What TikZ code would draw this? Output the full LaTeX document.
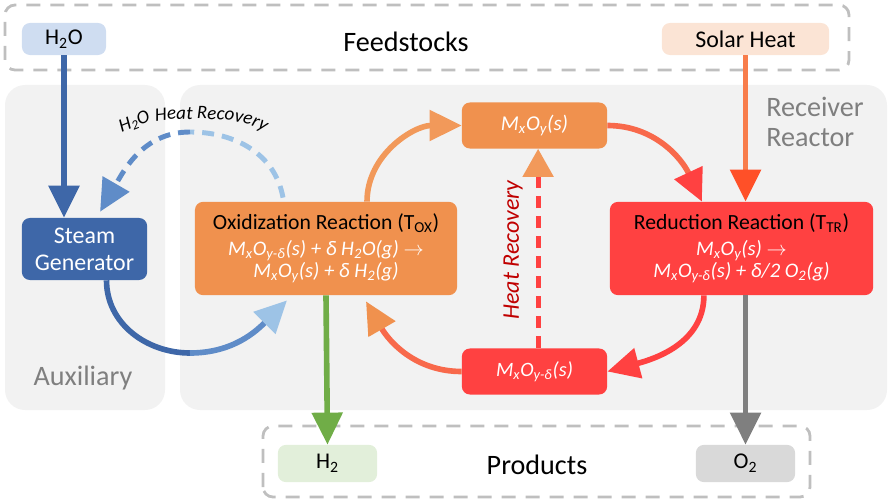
\documentclass[tikz,border=0pt]{standalone}
\usepackage{fontspec}
\setmainfont{Carlito}
\usepackage{xcolor}
\definecolor{panelgray}{RGB}{242,242,242}
\definecolor{dashgray}{RGB}{191,191,191}
\definecolor{labelgray}{RGB}{127,127,127}
\definecolor{steamblue}{RGB}{62,103,168}
\definecolor{midblue}{RGB}{95,140,200}
\definecolor{paleblue}{RGB}{157,195,230}
\definecolor{h2oblue}{RGB}{207,221,241}
\definecolor{solarpeach}{RGB}{251,228,213}
\definecolor{oxorange}{RGB}{240,145,78}
\definecolor{arroworange}{RGB}{242,153,90}
\definecolor{redred}{RGB}{255,65,65}
\definecolor{coral}{RGB}{248,105,75}
\definecolor{solarline}{RGB}{248,125,75}
\definecolor{solartip}{RGB}{255,80,40}
\definecolor{h2green}{RGB}{226,239,218}
\definecolor{o2gray}{RGB}{217,217,217}
\definecolor{h2line}{RGB}{112,173,71}
\definecolor{o2line}{RGB}{127,127,127}
\definecolor{recoveryred}{RGB}{192,0,0}
\usetikzlibrary{arrows.meta,positioning,decorations.text}

\begin{document}
\begin{tikzpicture}[x=0.025cm, y=0.025cm,
    panel/.style={fill=panelgray, rounded corners=0.5cm},
    groupbox/.style={draw=dashgray, line width=2pt, dash pattern=on 0.35cm off 0.25cm, rounded corners=0.25cm},
    box/.style={rectangle, rounded corners=0.2cm, align=center, inner sep=2pt},
    tag/.style={box, minimum width=2.48cm, minimum height=0.93cm, font=\fontsize{16}{19}\selectfont},
    reaction/.style={box, minimum width=6.55cm, minimum height=2.33cm, text=white, font=\itshape\fontsize{14.7}{16}\selectfont},
    phase/.style={box, text=white, font=\itshape\fontsize{15}{17}\selectfont, minimum width=3.63cm, minimum height=1.15cm},
    flow/.style={line width=4pt, -{Triangle[length=0.8cm,width=0.75cm]}},
    recovery/.style={flow, line width=3.5pt, dash pattern=on 0.3cm off 0.2cm},
    grouplabel/.style={text=labelgray, font=\fontsize{20}{21}\selectfont}]

    \useasboundingbox (0,0) rectangle (892,501);

    % Background panels
    \fill[panel] (5,91) rectangle (165,416);
    \fill[panel] (180,91) rectangle (887,416);
    \draw[groupbox] (5,431) rectangle (849,496);
    \draw[groupbox] (263,4) rectangle (810,75);

    % Feedstocks
    \node[tag, fill=h2oblue, minimum width=2.1cm, minimum height=0.8cm] (h2o) at (64,462) {H\textsubscript{2}O};
    \node[tag, fill=solarpeach, minimum width=4.18cm, minimum height=0.8cm, font=\fontsize{17}{20}\selectfont] (solar) at (745.5,462) {Solar Heat};
    \node[font=\fontsize{20}{24}\selectfont] (feed) at (406,459) {Feedstocks};

    % Auxiliary
    \node[box, fill=steamblue, text=white, minimum width=3.13cm, minimum height=1.55cm, font=\fontsize{17}{19}\selectfont] (steam) at (84.5,252) {Steam\\Generator};
    \node[grouplabel] (aux) at (83,123) {Auxiliary};

    % Receiver Reactor
    \node[reaction, fill=oxorange] (ox) at (326,252.5) {{\upshape\color{black}\fontsize{15.4}{18}\selectfont Oxidization Reaction (T\textsubscript{OX})}\\[2pt]
        M\textsubscript{x}O\textsubscript{y-δ}(s) + δ H\textsubscript{2}O(g) $\rightarrow$\\
        M\textsubscript{x}O\textsubscript{y}(s) + δ H\textsubscript{2}(g)};
    \node[reaction, fill=redred, minimum width=6.58cm] (red) at (741.5,252.5) {{\upshape\color{black}\fontsize{15.4}{18}\selectfont Reduction Reaction (T\textsubscript{TR})}\\[2pt]
        M\textsubscript{x}O\textsubscript{y}(s) $\rightarrow$\\
        M\textsubscript{x}O\textsubscript{y-δ}(s) + δ/2 O\textsubscript{2}(g)};
    \node[phase, fill=oxorange] (mxoy) at (534.5,375.5) {M\textsubscript{x}O\textsubscript{y}(s)};
    \node[phase, fill=redred, font=\itshape\fontsize{14.5}{16}\selectfont] (mxoyd) at (534.5,129.5) {M\textsubscript{x}O\textsubscript{y-δ}(s)};
    \node[grouplabel, align=left] (rr) at (815,379) {Receiver\\Reactor};

    % Products
    \node[tag, fill=h2green] (h2) at (327.5,37.5) {H\textsubscript{2}};
    \node[tag, fill=o2gray] (o2) at (745.5,37.5) {O\textsubscript{2}};
    \node[font=\fontsize{20}{24}\selectfont] (prod) at (537,36) {Products};

    % Water and steam
    \draw[flow, steamblue] (h2o.south) -- (h2o.south |- steam.north);
    \coordinate (hrtop) at (190,369);
    \draw[recovery, -, paleblue] ([xshift=-1.075cm,yshift=0.1cm]ox.north) to[out=100,in=0] (hrtop);
    \draw[recovery, midblue] (hrtop) to[out=180,in=60] ([xshift=0.39cm,yshift=0.15cm]steam.north);
    \path[decorate, decoration={text along path, text align=center,
        text={|\itshape\fontsize{13.5}{15}\selectfont|{H\textsubscript{2}O} Heat Recovery}}]
        (106,343) to[out=72,in=180] (190,382) to[out=0,in=112] (282,346);
    \coordinate (sgbottom) at (190,148);
    \draw[flow, -, steamblue] ([xshift=0.55cm]steam.south) to[out=-90,in=180] (sgbottom);
    \draw[flow, midblue, -{Triangle[length=0.8cm,width=0.75cm,color=paleblue]}] (sgbottom) to[out=0,in=-135] ([xshift=-0.975cm,yshift=-0.125cm]ox.south);

    % Redox cycle
    \draw[flow, arroworange] ([xshift=1.025cm]ox.north) to[out=90,in=180] (mxoy.west);
    \draw[flow, coral, -{Triangle[length=0.8cm,width=0.75cm,color=redred]}] (mxoy.east) to[out=0,in=115] ([xshift=-0.99cm]red.north);
    \draw[flow, solarline, -{Triangle[length=0.8cm,width=0.75cm,color=solartip]}] (solar.south) -- (solar.south |- red.north);
    \draw[flow, redred] ([xshift=-0.94cm]red.south) to[out=-90,in=15] (mxoyd.east);
    \draw[flow, coral, -{Triangle[length=0.8cm,width=0.75cm,color=oxorange]}] (mxoyd.west) to[out=180,in=-60] ([xshift=1cm,yshift=-0.15cm]ox.south);
    \draw[recovery, redred, -{Triangle[length=0.7cm,width=0.75cm,color=arroworange]}] ([xshift=0.09cm]mxoyd.north) -- ([xshift=0.09cm]mxoy.south);
    \node[rotate=90, text=recoveryred, font=\itshape\fontsize{17}{20}\selectfont] (hrlabel) at (513,251) {Heat Recovery};

    % Products out
    \draw[flow, h2line] (ox.south) -- (h2.north);
    \draw[flow, o2line] (o2.north |- red.south) -- (o2.north);
\end{tikzpicture}
\end{document}
